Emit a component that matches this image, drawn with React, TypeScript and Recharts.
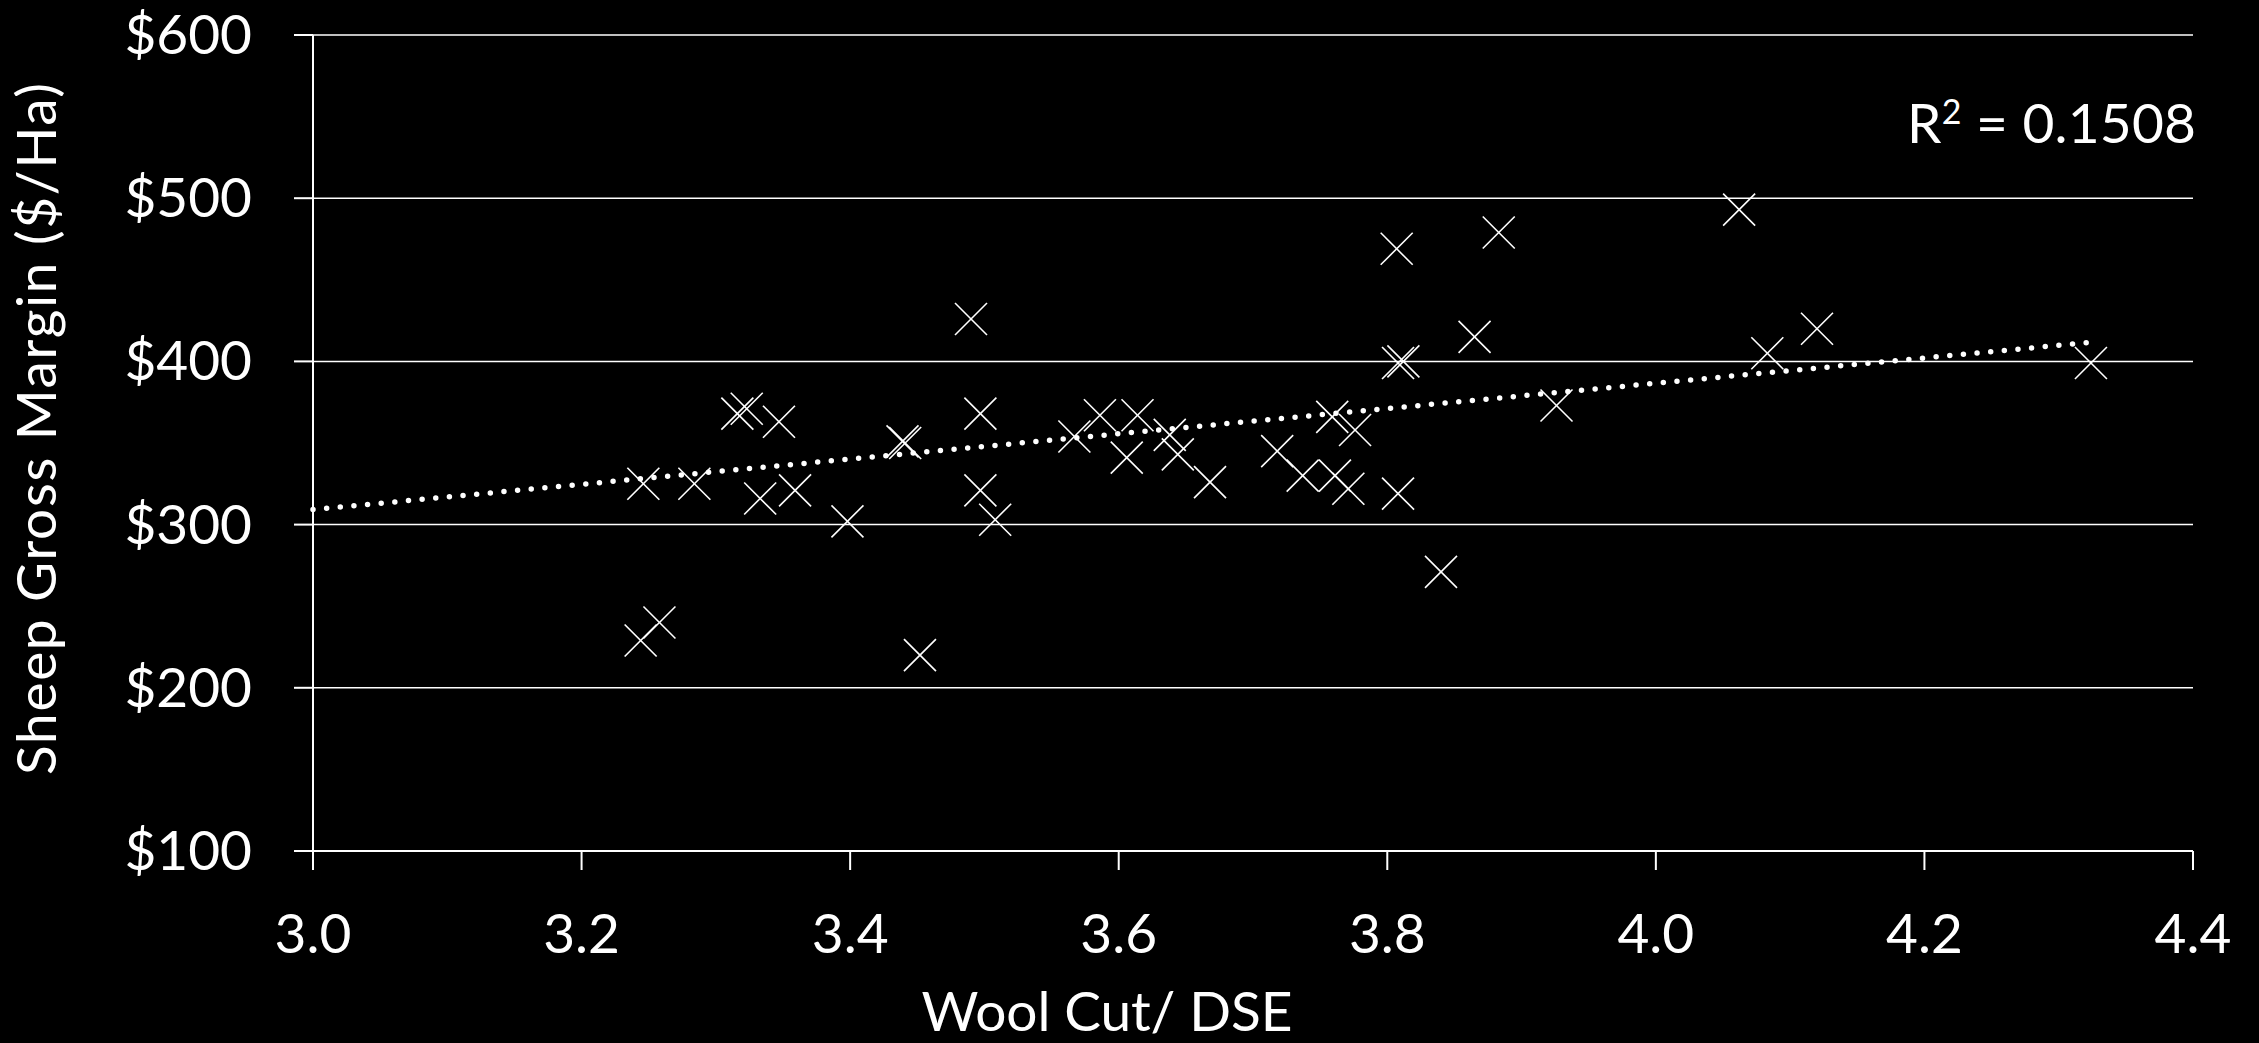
import React from 'react';
import {
  ScatterChart,
  Scatter,
  XAxis,
  YAxis,
  CartesianGrid,
  ReferenceLine,
  Customized,
} from 'recharts';

// Wool cut per DSE (x) and sheep gross margin $/Ha (y)
const woolCut: number[] = [
  3.246, 3.284, 3.244, 3.258, 3.316, 3.323, 3.347, 3.333, 3.359, 3.398,
  3.439, 3.441, 3.452, 3.490, 3.497, 3.497, 3.508, 3.567, 3.586, 3.606,
  3.614, 3.638, 3.644, 3.668, 3.718, 3.737, 3.761, 3.759, 3.776, 3.771,
  3.807, 3.883, 4.062, 3.808, 3.812, 3.865, 4.120, 4.083, 4.324, 3.926,
  3.808, 3.840,
];
const grossMargin: number[] = [
  325, 325, 229, 240, 368, 371, 363, 316, 321, 302,
  351, 350, 220, 426, 368, 321, 303, 354, 367, 341,
  367, 355, 343, 326, 345, 330, 330, 366, 358, 322,
  469, 479, 493, 399, 400, 415, 420, 405, 399, 373,
  319, 271,
];

// Linear trendline end points
const trendX: number[] = [3.0, 4.324];
const trendY: number[] = [309.2, 411.7];

const xTicks: number[] = [3.0, 3.2, 3.4, 3.6, 3.8, 4.0, 4.2, 4.4];
const yTicks: number[] = [100, 200, 300, 400, 500, 600];

const xTitle = 'Wool Cut/ DSE';
const yTitle = 'Sheep Gross Margin ($/Ha)';
const r2Base = 'R';
const r2Sup = '2';
const r2Value = ' = 0.1508';

const points = woolCut.map((x, i) => ({ x, y: grossMargin[i] }));

const FONT = 'Lato, "Open Sans", sans-serif';
const FS = 55;
const WHITE = '#ffffff';

const XMark = (props: any) => {
  const { cx, cy } = props;
  if (cx == null || cy == null) return null;
  const h = 16;
  return (
    <g>
      <line x1={cx - h} y1={cy - h} x2={cx + h} y2={cy + h} stroke={WHITE} strokeWidth={1.6} />
      <line x1={cx - h} y1={cy + h} x2={cx + h} y2={cy - h} stroke={WHITE} strokeWidth={1.6} />
    </g>
  );
};

const YTick = (props: any) => {
  const { x, y, payload } = props;
  return (
    <text x={x} y={y + 19} textAnchor="end" fill={WHITE} fontSize={FS} fontFamily={FONT}>
      {`$${payload.value}`}
    </text>
  );
};

const XTick = (props: any) => {
  const { x, y, payload } = props;
  return (
    <text x={x} y={y + 83} textAnchor="middle" fill={WHITE} fontSize={FS} fontFamily={FONT}>
      {Number(payload.value).toFixed(1)}
    </text>
  );
};

const Titles = () => (
  <g>
    <text
      x={1107}
      y={1031}
      textAnchor="middle"
      fill={WHITE}
      fontSize={FS}
      fontFamily={FONT}
      textLength={371}
      lengthAdjust="spacing"
    >
      {xTitle}
    </text>
    <text
      x={56}
      y={429}
      textAnchor="middle"
      fill={WHITE}
      fontSize={FS}
      fontFamily={FONT}
      textLength={692}
      lengthAdjust="spacing"
      transform="rotate(-90, 56, 429)"
    >
      {yTitle}
    </text>
    <text
      x={2196}
      y={143}
      textAnchor="end"
      fill={WHITE}
      fontSize={FS}
      fontFamily={FONT}
      textLength={289}
      lengthAdjust="spacing"
    >
      {r2Base}
      <tspan fontSize={34} dy={-19}>{r2Sup}</tspan>
      <tspan dy={19}>{r2Value}</tspan>
    </text>
  </g>
);

export default function App() {
  return (
    <div
      style={{
        position: 'absolute',
        left: 0,
        top: 0,
        width: 2259,
        height: 1043,
        background: '#000000',
      }}
    >
      <ScatterChart
        width={2259}
        height={1043}
        margin={{ top: 35, right: 66, bottom: 0, left: 0 }}
      >
        <CartesianGrid vertical={false} stroke={WHITE} strokeWidth={1.5} />
        <XAxis
          type="number"
          dataKey="x"
          domain={[3.0, 4.4]}
          ticks={xTicks}
          height={192}
          tickSize={19}
          tickMargin={0}
          axisLine={{ stroke: WHITE, strokeWidth: 2 }}
          tickLine={{ stroke: WHITE, strokeWidth: 2 }}
          tick={<XTick />}
          allowDataOverflow
        />
        <YAxis
          type="number"
          dataKey="y"
          domain={[100, 600]}
          ticks={yTicks}
          width={313}
          tickSize={19}
          tickMargin={42}
          axisLine={{ stroke: WHITE, strokeWidth: 2 }}
          tickLine={{ stroke: WHITE, strokeWidth: 2 }}
          tick={<YTick />}
          allowDataOverflow
        />
        <ReferenceLine
          segment={[
            { x: trendX[0], y: trendY[0] },
            { x: trendX[1], y: trendY[1] },
          ]}
          stroke={WHITE}
          strokeWidth={5.5}
          strokeDasharray="0 13.7"
          strokeLinecap="round"
        />
        <Scatter data={points} shape={<XMark />} isAnimationActive={false} />
        <Customized component={Titles} />
      </ScatterChart>
    </div>
  );
}
